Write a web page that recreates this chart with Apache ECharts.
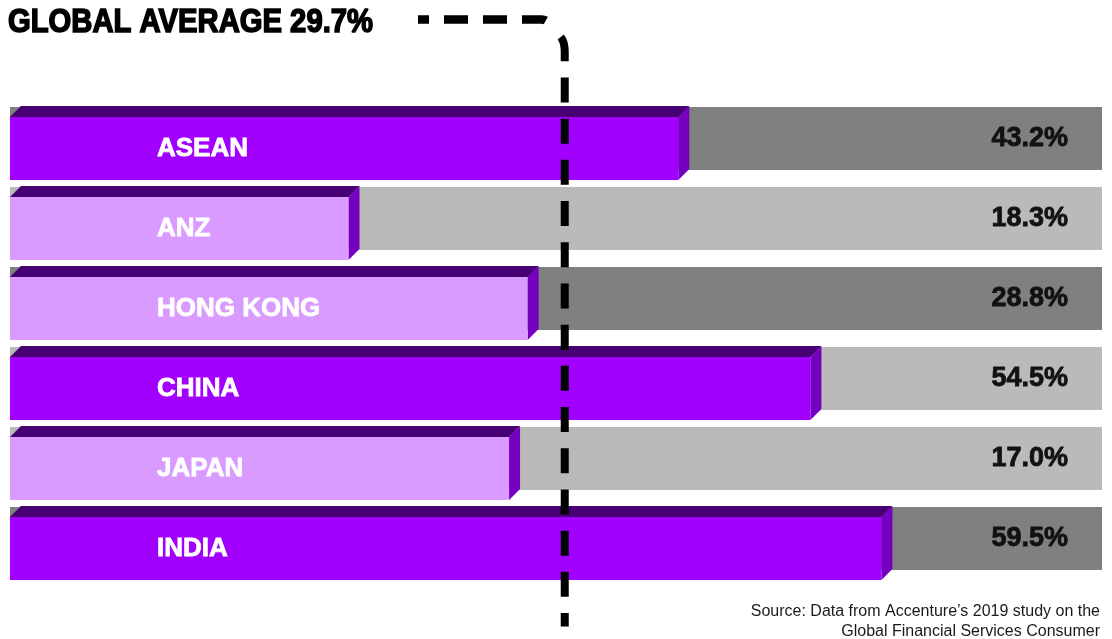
<!DOCTYPE html>
<html>
<head>
<meta charset="utf-8">
<script src="https://cdn.jsdelivr.net/npm/echarts@6/dist/echarts.min.js"></script>
<style>
  html, body { margin: 0; padding: 0; background: #fff; }
  #main { width: 1112px; height: 639px; }
</style>
</head>
<body>
<div id="main"></div>
<script>
// data
var regions = ['ASEAN', 'ANZ', 'HONG KONG', 'CHINA', 'JAPAN', 'INDIA'];
var shares = [43.2, 18.3, 28.8, 54.5, 17.0, 59.5];
// drawn bar length, as % of the grey track (the infographic is not to scale)
var barLength = [61.2, 31.0, 47.4, 73.3, 45.7, 79.8];
var globalAverage = 29.7;
// where the dashed average line sits on the same track scale
var avgPosition = 50.8;

// styles
var trackShade = ['#808080', '#bababa', '#808080', '#bababa', '#bababa', '#808080'];
var aboveColor = '#a100ff';
var belowColor = '#d99bff';
var topColor = '#460073';
var sideColor = '#7500c0';
var depth = 11;
var barH = 63;
var boldFont = '"Liberation Sans", Arial, sans-serif';

var chart = echarts.init(document.getElementById('main'));

function renderBar(params, api) {
    var i = api.value(0);
    var len = api.value(1);
    var start = api.coord([0, i]);
    var end = api.coord([len, i]);
    var trackEnd = api.coord([100, i]);
    var yc = start[1];
    var top = yc - barH / 2;
    var x0 = start[0], x1 = end[0];
    var front = shares[i] >= globalAverage ? aboveColor : belowColor;
    return {
        type: 'group',
        children: [
            {
                type: 'rect',
                shape: { x: x0, y: top - 10, width: trackEnd[0] - x0, height: barH },
                style: { fill: trackShade[i] }
            },
            {
                type: 'polygon',
                shape: { points: [[x0, top], [x0 + depth, top - depth], [x1 + depth, top - depth], [x1, top]] },
                style: { fill: topColor }
            },
            {
                type: 'polygon',
                shape: { points: [[x1, top], [x1 + depth, top - depth], [x1 + depth, top - depth + barH], [x1, top + barH]] },
                style: { fill: sideColor }
            },
            {
                type: 'rect',
                shape: { x: x0, y: top, width: x1 - x0, height: barH },
                style: { fill: front }
            },
            {
                type: 'text',
                x: x0 + 147,
                y: yc,
                style: {
                    text: regions[i],
                    fill: '#fff',
                    stroke: '#fff',
                    lineWidth: 0.8,
                    font: 'bold 26px ' + boldFont,
                    textAlign: 'left',
                    textVerticalAlign: 'middle'
                }
            },
            {
                type: 'text',
                x: trackEnd[0] - 34,
                y: yc - 10,
                style: {
                    text: shares[i].toFixed(1) + '%',
                    fill: '#111',
                    stroke: '#111',
                    lineWidth: 0.8,
                    font: 'bold 27px ' + boldFont,
                    textAlign: 'right',
                    textVerticalAlign: 'middle'
                }
            }
        ]
    };
}

// dashed average line: runs out from the title, bends down and crosses all rows
function renderAvg(params, api) {
    var x = api.coord([api.value(0), 0])[0];
    var lastY = api.coord([0, regions.length - 1])[1];
    var bottom = lastY + 78;
    return {
        type: 'group',
        children: [
            {
                type: 'path',
                shape: {
                    pathData: 'M 418 19.5 L ' + (x - 23) + ' 19.5 Q ' + (x - 19) + ' 19.5 ' + (x - 16) + ' 23'
                },
                style: {
                    fill: 'none',
                    stroke: '#000',
                    lineWidth: 8.5,
                    lineDash: [24, 15],
                    lineDashOffset: 13
                }
            },
            {
                type: 'path',
                shape: {
                    pathData: 'M ' + (x - 4) + ' 37 Q ' + x + ' 42 ' + x + ' 52 L ' + x + ' ' + bottom
                },
                style: {
                    fill: 'none',
                    stroke: '#000',
                    lineWidth: 8,
                    lineDash: [25, 16.2]
                }
            }
        ],
        z2: 100
    };
}

chart.setOption({
    animation: false,
    grid: { left: 10, right: 10, top: 108.5, height: 480 },
    xAxis: { type: 'value', min: 0, max: 100, show: false },
    yAxis: { type: 'category', data: regions, inverse: true, show: false },
    graphic: [
        {
            type: 'text',
            x: 8,
            y: 22.5,
            scaleX: 0.86,
            z: 100,
            style: {
                text: 'GLOBAL AVERAGE ' + globalAverage.toFixed(1) + '%',
                fill: '#000',
                stroke: '#000',
                lineWidth: 1.6,
                font: 'bold 34px ' + boldFont,
                textAlign: 'left',
                textVerticalAlign: 'middle'
            }
        },
        {
            type: 'text',
            x: 1100,
            y: 602,
            z: 100,
            style: {
                text: 'Source: Data from Accenture\u2019s 2019 study on the\nGlobal Financial Services Consumer',
                fill: '#1a1a1a',
                font: '16px "Liberation Sans", Arial, sans-serif',
                lineHeight: 20,
                textAlign: 'right',
                textVerticalAlign: 'top'
            }
        }
    ],
    series: [
        {
            type: 'custom',
            renderItem: renderBar,
            encode: { x: 1, y: 0 },
            data: regions.map(function (r, i) { return [i, barLength[i]]; }),
            z: 2
        },
        {
            type: 'custom',
            renderItem: renderAvg,
            encode: { x: 0 },
            data: [[avgPosition]],
            z: 10
        }
    ]
});
</script>
</body>
</html>
